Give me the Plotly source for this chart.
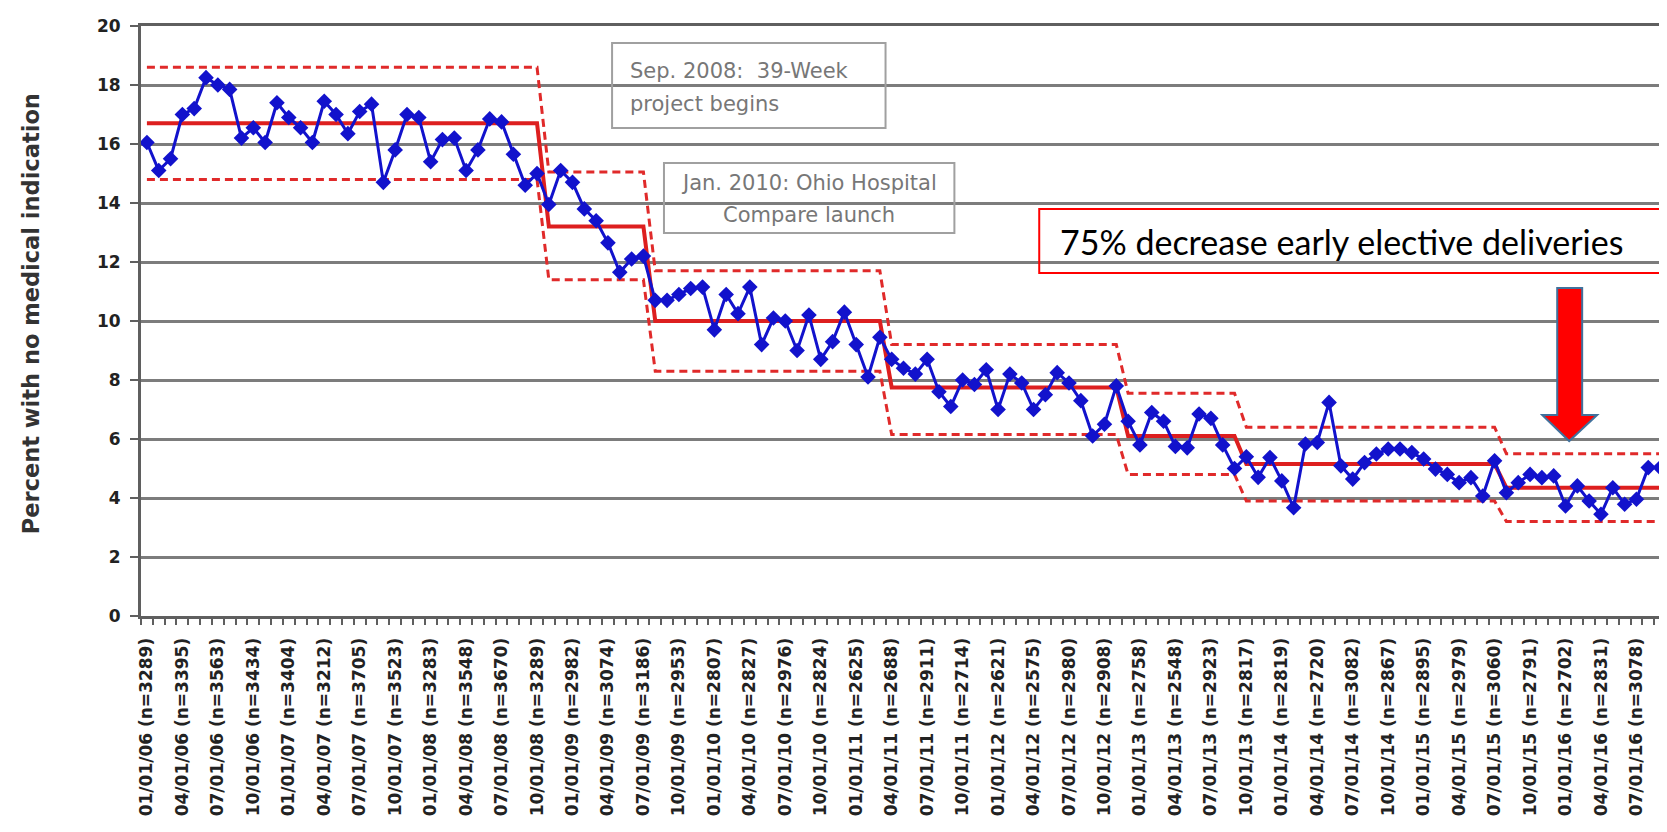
import plotly.graph_objects as go

# ---------------- data ----------------
pct_no_indication = [
    16.05, 15.1, 15.5, 17.0, 17.2, 18.25, 18.0, 17.85, 16.2, 16.55, 16.05, 17.4,   # 2006
    16.9, 16.55, 16.05, 17.45, 17.0, 16.35, 17.1, 17.35, 14.7, 15.8, 17.0, 16.9,  # 2007
    15.4, 16.15, 16.2, 15.1, 15.8, 16.85, 16.75, 15.65, 14.6, 15.0, 13.95, 15.1,  # 2008
    14.7, 13.8, 13.4, 12.65, 11.65, 12.1, 12.2, 10.7, 10.7, 10.9, 11.1, 11.15,    # 2009
    9.7, 10.9, 10.25, 11.15, 9.2, 10.1, 10.0, 9.0, 10.2, 8.7, 9.3, 10.3,          # 2010
    9.2, 8.1, 9.45, 8.7, 8.4, 8.2, 8.7, 7.6, 7.1, 8.0, 7.85, 8.35,                # 2011
    7.0, 8.2, 7.9, 7.0, 7.5, 8.25, 7.9, 7.3, 6.1, 6.5, 7.8, 6.6,                  # 2012
    5.8, 6.9, 6.6, 5.75, 5.7, 6.85, 6.7, 5.8, 5.0, 5.4, 4.7, 5.37,                # 2013
    4.58, 3.67, 5.83, 5.88, 7.24, 5.09, 4.64, 5.2, 5.49, 5.66, 5.66, 5.54,        # 2014
    5.32, 4.98, 4.8, 4.52, 4.69, 4.07, 5.26, 4.18, 4.52, 4.8, 4.69, 4.75,         # 2015
    3.73, 4.41, 3.9, 3.45, 4.35, 3.79, 3.96, 5.03, 5.03,                          # 2016
]

# control-chart phases (number of months in each phase, centre line and limits)
phase_length = [34, 9, 20, 20, 10, 22, 14]
phase_center = [16.7, 13.2, 10.0, 7.75, 6.1, 5.15, 4.35]
phase_ucl = [18.6, 15.05, 11.7, 9.2, 7.55, 6.4, 5.5]
phase_lcl = [14.8, 11.4, 8.3, 6.15, 4.8, 3.9, 3.2]

tick_labels = [
    "01/01/06 (n=3289)", "04/01/06 (n=3395)", "07/01/06 (n=3563)", "10/01/06 (n=3434)",
    "01/01/07 (n=3404)", "04/01/07 (n=3212)", "07/01/07 (n=3705)", "10/01/07 (n=3523)",
    "01/01/08 (n=3283)", "04/01/08 (n=3548)", "07/01/08 (n=3670)", "10/01/08 (n=3289)",
    "01/01/09 (n=2982)", "04/01/09 (n=3074)", "07/01/09 (n=3186)", "10/01/09 (n=2953)",
    "01/01/10 (n=2807)", "04/01/10 (n=2827)", "07/01/10 (n=2976)", "10/01/10 (n=2824)",
    "01/01/11 (n=2625)", "04/01/11 (n=2688)", "07/01/11 (n=2911)", "10/01/11 (n=2714)",
    "01/01/12 (n=2621)", "04/01/12 (n=2575)", "07/01/12 (n=2980)", "10/01/12 (n=2908)",
    "01/01/13 (n=2758)", "04/01/13 (n=2548)", "07/01/13 (n=2923)", "10/01/13 (n=2817)",
    "01/01/14 (n=2819)", "04/01/14 (n=2720)", "07/01/14 (n=3082)", "10/01/14 (n=2867)",
    "01/01/15 (n=2895)", "04/01/15 (n=2979)", "07/01/15 (n=3060)", "10/01/15 (n=2791)",
    "01/01/16 (n=2702)", "04/01/16 (n=2831)", "07/01/16 (n=3078)",
]
tick_step = 3  # one label per quarter

# ---------------- build series ----------------
n = len(pct_no_indication)
month_idx = list(range(n))
center, ucl, lcl = [], [], []
for ln, c, u, l in zip(phase_length, phase_center, phase_ucl, phase_lcl):
    center += [c] * ln
    ucl += [u] * ln
    lcl += [l] * ln

# ---------------- geometry helpers (pixel -> paper) ----------------
W, H = 1667, 832
L, R, T, B = 133, 1661, 18, 608


def fx(p):
    return (p - L) / (R - L)


def fy(p):
    return (B - p) / (B - T)


fig = go.Figure()
limit_style = dict(color="#e02a2a", width=3, dash="8px,5px")
fig.add_trace(go.Scatter(x=month_idx, y=ucl, mode="lines", line=limit_style, hoverinfo="skip"))
fig.add_trace(go.Scatter(x=month_idx, y=lcl, mode="lines", line=limit_style, hoverinfo="skip"))
fig.add_trace(go.Scatter(x=month_idx, y=center, mode="lines",
                         line=dict(color="#dd1f1f", width=4), hoverinfo="skip"))
fig.add_trace(go.Scatter(
    x=month_idx, y=pct_no_indication, mode="lines+markers",
    line=dict(color="#1212cc", width=3),
    marker=dict(symbol="diamond", size=12, color="#1212cc"),
))

axis_font = dict(family="DejaVu Sans", size=17, color="#222", weight="bold")

fig.update_layout(
    width=W, height=H,
    margin=dict(l=L, r=W - R, t=T, b=H - B),
    paper_bgcolor="white", plot_bgcolor="white",
    showlegend=False,
    xaxis=dict(
        range=[-0.5, n - 0.5],
        tickmode="array",
        tickvals=month_idx[::tick_step],
        ticktext=tick_labels,
        tickangle=-90,
        ticks="",
        ticklabelstandoff=12,
        tickfont=dict(family="DejaVu Sans", size=17, color="#222", weight="bold"),
        showgrid=False, zeroline=False,
        showline=True, linecolor="#5f5f5f", linewidth=3, mirror=True,
        minor=dict(tickmode="array", tickvals=[i - 0.5 for i in range(n + 1)],
                   ticks="outside", ticklen=6, tickcolor="#5f5f5f", tickwidth=1.5,
                   showgrid=False),
    ),
    yaxis=dict(
        range=[0, 20], dtick=2, tick0=0,
        showgrid=True, gridcolor="#7c7c7c", gridwidth=2.5,
        zeroline=False,
        showline=True, linecolor="#5f5f5f", linewidth=3, mirror=True,
        ticks="outside", ticklen=8, tickcolor="#5f5f5f", tickwidth=2,
        ticklabelstandoff=6,
        tickfont=axis_font,
    ),
)

gray_text = dict(family="DejaVu Sans", size=21, color="#777")
annotations = [
    dict(text="Percent with no medical indication", textangle=-90,
         x=fx(23), y=fy(306), xanchor="center", yanchor="middle",
         font=dict(family="DejaVu Sans", size=22.5, color="#333", weight="bold")),
    dict(text="Sep. 2008:\u00a0 39-Week", x=fx(621), y=fy(63), xanchor="left", yanchor="middle",
         font=gray_text),
    dict(text="project begins", x=fx(621), y=fy(96), xanchor="left", yanchor="middle",
         font=gray_text),
    dict(text="Jan. 2010: Ohio Hospital", x=fx(802), y=fy(175), xanchor="center",
         yanchor="middle", font=gray_text),
    dict(text="Compare launch", x=fx(802), y=fy(207), xanchor="center", yanchor="middle",
         font=gray_text),
    dict(text="75% decrease early elective deliveries", x=fx(1052), y=fy(233),
         xanchor="left", yanchor="middle",
         font=dict(family="Lato", size=34, color="#000")),
]
for a in annotations:
    a.update(xref="paper", yref="paper", showarrow=False)
fig.update_layout(annotations=annotations)

arrow_pts = [(1552, 280), (1577, 280), (1577, 407), (1592, 407), (1564, 433),
             (1537, 407), (1552, 407)]
arrow_path = "M " + " L ".join(f"{fx(a)},{fy(b)}" for a, b in arrow_pts) + " Z"

shapes = [
    dict(type="rect", x0=fx(605), x1=fx(879), y0=fy(120), y1=fy(35),
         line=dict(color="#a0a0a0", width=2)),
    dict(type="rect", x0=fx(657), x1=fx(948), y0=fy(225), y1=fy(155),
         line=dict(color="#a0a0a0", width=2)),
    dict(type="rect", x0=fx(1033), x1=fx(1660), y0=fy(265), y1=fy(201),
         line=dict(color="#ff0000", width=2)),
    dict(type="path", path=arrow_path, fillcolor="#ff0000",
         line=dict(color="#41719c", width=2)),
]
for s in shapes:
    s.update(xref="paper", yref="paper")
fig.update_layout(shapes=shapes)

fig.write_html("out.html")
